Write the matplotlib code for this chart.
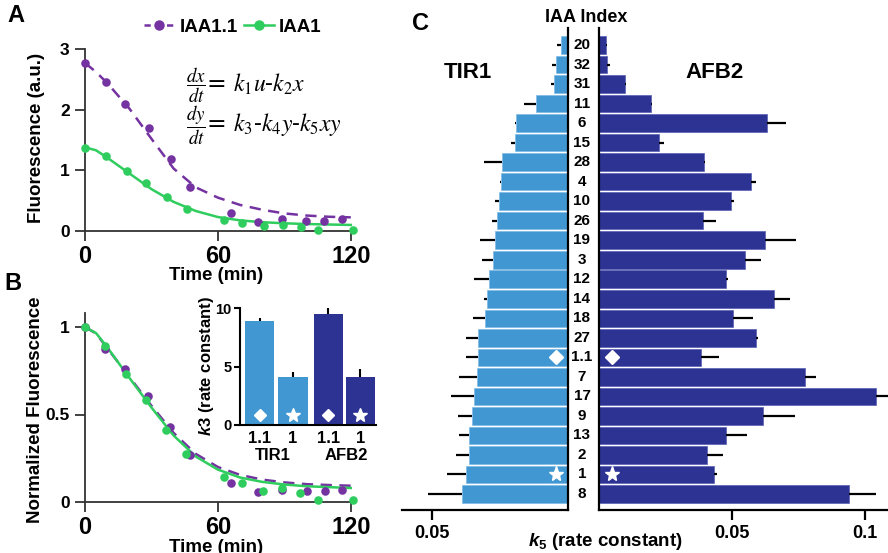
import matplotlib
matplotlib.use('Agg')
import matplotlib.pyplot as plt
import matplotlib.transforms as mtransforms
from matplotlib.lines import Line2D
from matplotlib.text import Text
import numpy as np

plt.rcParams['font.family'] = ['Liberation Sans', 'DejaVu Sans']
plt.rcParams['font.weight'] = 'normal'
plt.rcParams['mathtext.fontset'] = 'custom'
plt.rcParams['mathtext.it'] = 'Liberation Sans:italic:bold'
plt.rcParams['mathtext.rm'] = 'Liberation Sans:bold'
plt.rcParams['mathtext.bf'] = 'Liberation Sans:bold'

# ---------------- data ----------------
# Panel A: raw fluorescence
t_a_iaa11 = [0, 9.5, 18.2, 28.9, 38.7, 47.4, 65.8, 78, 88.9, 100, 108, 116]
f_a_iaa11 = [2.77, 2.45, 2.10, 1.69, 1.19, 0.73, 0.30, 0.15, 0.19, 0.17, 0.17, 0.19]
t_a_iaa1 = [0, 9.5, 18.8, 27.6, 36.9, 45.9, 62.8, 71, 80.6, 89.3, 97.6, 105.4, 121]
f_a_iaa1 = [1.37, 1.23, 0.99, 0.79, 0.56, 0.36, 0.18, 0.14, 0.09, 0.10, 0.07, 0.01, 0.01]
fit_t = [0, 5, 10, 20, 30, 40, 50, 60, 70, 80, 90, 100, 110, 120]
fit_a_iaa11 = [2.77, 2.62, 2.44, 2.02, 1.52, 1.03, 0.72, 0.55, 0.43, 0.35, 0.29, 0.255, 0.235, 0.225]
fit_a_iaa1 = [1.38, 1.33, 1.21, 0.95, 0.69, 0.48, 0.33, 0.23, 0.175, 0.145, 0.127, 0.115, 0.107, 0.10]

# Panel B: normalized fluorescence
t_b_iaa11 = [0, 9.2, 18.1, 28.5, 38.5, 47.2, 66, 78.2, 88.8, 100.4, 108.2, 116.2]
f_b_iaa11 = [1.0, 0.877, 0.759, 0.605, 0.431, 0.269, 0.108, 0.055, 0.068, 0.061, 0.061, 0.066]
t_b_iaa1 = [0, 9.2, 18.4, 27.5, 36.7, 45.6, 62.6, 70.9, 80.5, 89.1, 97.1, 105.4, 120.9]
f_b_iaa1 = [1.0, 0.894, 0.729, 0.583, 0.41, 0.275, 0.142, 0.106, 0.065, 0.080, 0.051, 0.009, 0.011]
fit_b_iaa11 = [1.0, 0.963, 0.88, 0.715, 0.55, 0.395, 0.275, 0.2, 0.155, 0.128, 0.112, 0.102, 0.097, 0.093]
fit_b_iaa1 = [1.0, 0.965, 0.885, 0.71, 0.54, 0.38, 0.26, 0.185, 0.14, 0.115, 0.10, 0.09, 0.085, 0.08]

# Inset: k3
k3_labels = ['1.1', '1', '1.1', '1']
k3_groups = ['TIR1', 'AFB2']
k3_values = [8.9, 4.1, 9.5, 4.1]
k3_err = [0.25, 0.4, 0.5, 0.65]

# Panel C: k5
iaa_index = ['20', '32', '31', '11', '6', '15', '28', '4', '10', '26', '19', '3',
             '12', '14', '18', '27', '1.1', '7', '17', '9', '13', '2', '1', '8']
tir1_k5 = [0.0027, 0.0044, 0.0053, 0.0117, 0.0190, 0.0193, 0.0242, 0.0247, 0.0252, 0.0262,
           0.0268, 0.0275, 0.0290, 0.0296, 0.0305, 0.0331, 0.0332, 0.0335, 0.0344, 0.0352,
           0.0362, 0.0365, 0.0374, 0.0390]
tir1_err = [0.0013, 0.0014, 0.0011, 0.0043, 0.0005, 0.0017, 0.0067, 0.0003, 0.0015, 0.0016,
            0.0057, 0.0042, 0.0056, 0.0011, 0.0043, 0.0042, 0.0041, 0.0067, 0.0086, 0.0053,
            0.0038, 0.0045, 0.0070, 0.0126]
afb2_k5 = [0.0025, 0.0029, 0.0098, 0.0196, 0.0631, 0.0226, 0.0395, 0.0572, 0.0498, 0.0391,
           0.0625, 0.0548, 0.0479, 0.0660, 0.0503, 0.0592, 0.0385, 0.0776, 0.1043, 0.0618,
           0.0478, 0.0405, 0.0433, 0.0941]
afb2_err = [0.0005, 0.0011, 0.0004, 0.0004, 0.0071, 0.0017, 0.0005, 0.0017, 0.0008, 0.0049,
            0.0117, 0.0063, 0.0008, 0.0060, 0.0077, 0.0005, 0.0065, 0.0042, 0.0047, 0.0120,
            0.0077, 0.0060, 0.0012, 0.0099]

# ---------------- styles ----------------
PURPLE = '#7433a1'
GREEN = '#2fcc5e'
LBLUE = '#4097d2'
DBLUE = '#2d3393'
W, H = 888, 553

def fx(px):
    return px / W

def fy(py):
    return 1 - py / H

fig = plt.figure(figsize=(8.88, 5.53), dpi=100)

def style_ab(ax):
    for s in ['top', 'right']:
        ax.spines[s].set_visible(False)
    for s in ['left', 'bottom']:
        ax.spines[s].set_linewidth(1.3)
        ax.spines[s].set_color('#333333')
    ax.tick_params(direction='out', length=7, width=1.3, color='#333333')
    ax.tick_params(axis='x', labelsize=17, pad=3)
    ax.tick_params(axis='y', labelsize=12.5, pad=4)
    ax.set_facecolor('none')

# ---------------- Panel A ----------------
axA = fig.add_axes([fx(85), fy(231), 268 / W, 182 / H])
axA.plot(fit_t, fit_a_iaa11, color=PURPLE, lw=1.8, ls=(0, (4.5, 3)))
axA.plot(fit_t, fit_a_iaa1, color=GREEN, lw=1.8)
axA.scatter(t_a_iaa11, f_a_iaa11, s=38, color=PURPLE, zorder=3, clip_on=False, linewidths=0)
axA.scatter(t_a_iaa1, f_a_iaa1, s=38, color=GREEN, zorder=4, clip_on=False, linewidths=0)
axA.set_xlim(0, 121)
axA.set_ylim(0, 3)
axA.set_xticks([0, 60, 120])
axA.set_yticks([0, 1, 2, 3])
style_ab(axA)

fig.text(fx(37), fy(138), 'Fluorescence (a.u.)', rotation=90, ha='center', va='center', fontsize=13.5)
fig.text(fx(216), fy(275), 'Time (min)', ha='center', va='center', fontsize=13.5)
fig.text(fx(16), fy(16), 'A', ha='center', va='center', fontsize=17)

eq_kw = dict(math_fontfamily='stix', family='DejaVu Serif')
eqs = [
    fig.text(fx(196), fy(85), r'$\dfrac{dx}{dt}$', ha='center', va='center', fontsize=13.5, **eq_kw),
    fig.text(fx(206), fy(92), r'= $k_1u$-$k_2x$', ha='left', va='baseline', fontsize=17, **eq_kw),
    fig.text(fx(196), fy(125), r'$\dfrac{dy}{dt}$', ha='center', va='center', fontsize=13.5, **eq_kw),
    fig.text(fx(206), fy(131), r'= $k_3$-$k_4y$-$k_5xy$', ha='left', va='baseline', fontsize=17, **eq_kw),
]

handles = [Line2D([], [], color=PURPLE, lw=1.8, ls=(0, (2.5, 2)), marker='o', ms=6.5),
           Line2D([], [], color=GREEN, lw=1.8, marker='o', ms=6.5)]
fig.legend(handles, ['IAA1.1', 'IAA1'], loc='center', bbox_to_anchor=(fx(233), fy(27)),
           ncol=2, frameon=False, fontsize=13.5, handlelength=1.6, handletextpad=0.3,
           columnspacing=0.3, borderpad=0.1)

# ---------------- Panel B ----------------
axB = fig.add_axes([fx(85), fy(502), 268 / W, 189 / H])
axB.plot(fit_t, fit_b_iaa11, color=PURPLE, lw=1.8, ls=(0, (4.5, 3)))
axB.plot(fit_t, fit_b_iaa1, color=GREEN, lw=1.8)
axB.scatter(t_b_iaa11, f_b_iaa11, s=38, color=PURPLE, zorder=3, clip_on=False, linewidths=0)
axB.scatter(t_b_iaa1, f_b_iaa1, s=38, color=GREEN, zorder=4, clip_on=False, linewidths=0)
axB.set_xlim(0, 121)
axB.set_ylim(0, 1.08)
axB.set_xticks([0, 60, 120])
axB.set_yticks([0, 0.5, 1])
axB.set_yticklabels(['0', '0.5', '1'])
style_ab(axB)

fig.text(fx(35), fy(410), 'Normalized Fluorescence', rotation=90, ha='center', va='center', fontsize=13.5)
fig.text(fx(216), fy(548), 'Time (min)', ha='center', va='center', fontsize=13.5)
fig.text(fx(13), fy(284), 'B', ha='center', va='center', fontsize=17)

# ---------------- Inset ----------------
axI = fig.add_axes([fx(240), fy(425), 136 / W, 120.5 / H])
pos = [0, 1, 2.06, 3.03]
cols = [LBLUE, LBLUE, DBLUE, DBLUE]
axI.bar(pos, k3_values, width=0.88, color=cols,
        yerr=[np.zeros(len(k3_err)), k3_err],
        error_kw=dict(ecolor='black', elinewidth=1.5, capsize=0))
axI.plot([pos[0], pos[2]], [0.85, 0.85], 'D', color='white', ms=6.5, ls='none')
axI.plot([pos[1], pos[3]], [0.85, 0.85], '*', color='white', ms=10, ls='none')
axI.set_xlim(-0.6, 3.5)
axI.set_ylim(0, 10.3)
axI.set_yticks([0, 5, 10])
axI.set_xticks(pos)
axI.set_xticklabels(k3_labels)
for s in ['top', 'right']:
    axI.spines[s].set_visible(False)
axI.spines['left'].set_bounds(0, 10)
for s in ['left', 'bottom']:
    axI.spines[s].set_linewidth(1.5)
axI.tick_params(axis='y', direction='out', length=4, width=1.5, labelsize=10.5, pad=2)
axI.tick_params(axis='x', length=0, labelsize=12, pad=4)
axI.set_facecolor('none')
tI = mtransforms.blended_transform_factory(axI.transData, fig.transFigure)
axI.text((pos[0] + pos[1]) / 2 - 0.1, fy(455), k3_groups[0], transform=tI, ha='center', va='center', fontsize=12)
axI.text((pos[2] + pos[3]) / 2 + 0.05, fy(455), k3_groups[1], transform=tI, ha='center', va='center', fontsize=12)
fig.text(fx(206), fy(366), r'$k$3 (rate constant)', rotation=90, ha='center', va='center', fontsize=12)

# ---------------- Panel C ----------------
rows = np.arange(len(iaa_index))
axL = fig.add_axes([fx(402), 43 / H, 166 / W, 482 / H])
axR = fig.add_axes([fx(599), 43 / H, 289 / W, 482 / H])
ekw = dict(ecolor='black', elinewidth=1.6, capsize=0)
axL.barh(rows, tir1_k5, height=0.9, color=LBLUE, edgecolor='#7db9e6', linewidth=0.5,
         xerr=[np.zeros(len(tir1_err)), tir1_err], error_kw=ekw)
axR.barh(rows, afb2_k5, height=0.9, color=DBLUE, edgecolor='#5a5fb5', linewidth=0.5,
         xerr=[np.zeros(len(afb2_err)), afb2_err], error_kw=ekw)
axL.set_xlim(0.061, 0)
axR.set_xlim(0, 0.1087)
for ax in (axL, axR):
    ax.set_ylim(23.82, -0.87)
    ax.set_yticks([])
    ax.spines['top'].set_visible(False)
    ax.tick_params(axis='x', direction='out', length=7, width=1.6, labelsize=13, pad=4)
    ax.set_facecolor('none')
    for s in ax.spines.values():
        s.set_linewidth(1.6)
axL.spines['left'].set_visible(False)
axR.spines['right'].set_visible(False)
axL.set_xticks([0.05])
axL.set_xticklabels(['0.05'])
axR.set_xticks([0.05, 0.1])
axR.set_xticklabels(['0.05', '0.1'])

i11 = iaa_index.index('1.1')
i1 = iaa_index.index('1')
axL.plot(0.0044, i11, 'D', color='white', ms=7)
axL.plot(0.0044, i1, '*', color='white', ms=11)
axR.plot(0.0048, i11, 'D', color='white', ms=7)
axR.plot(0.0048, i1, '*', color='white', ms=11)

tC = mtransforms.blended_transform_factory(fig.transFigure, axL.transData)
for r, lab in zip(rows, iaa_index):
    fig.text(fx(582), r, lab, transform=tC, ha='center', va='center', fontsize=11)

fig.text(fx(586), fy(18), 'IAA Index', ha='center', va='center', fontsize=13)
fig.text(fx(468), fy(73), 'TIR1', ha='center', va='center', fontsize=16)
fig.text(fx(715), fy(73), 'AFB2', ha='center', va='center', fontsize=16)
fig.text(fx(420), fy(23), 'C', ha='center', va='center', fontsize=17)
fig.text(fx(605), fy(541), r'$k_5$ (rate constant)', ha='center', va='center', fontsize=13.5)

# bold everything except the serif equations
for t in fig.findobj(Text):
    if all(t is not e for e in eqs):
        t.set_fontweight('bold')

fig.savefig('out.png', dpi=100)
